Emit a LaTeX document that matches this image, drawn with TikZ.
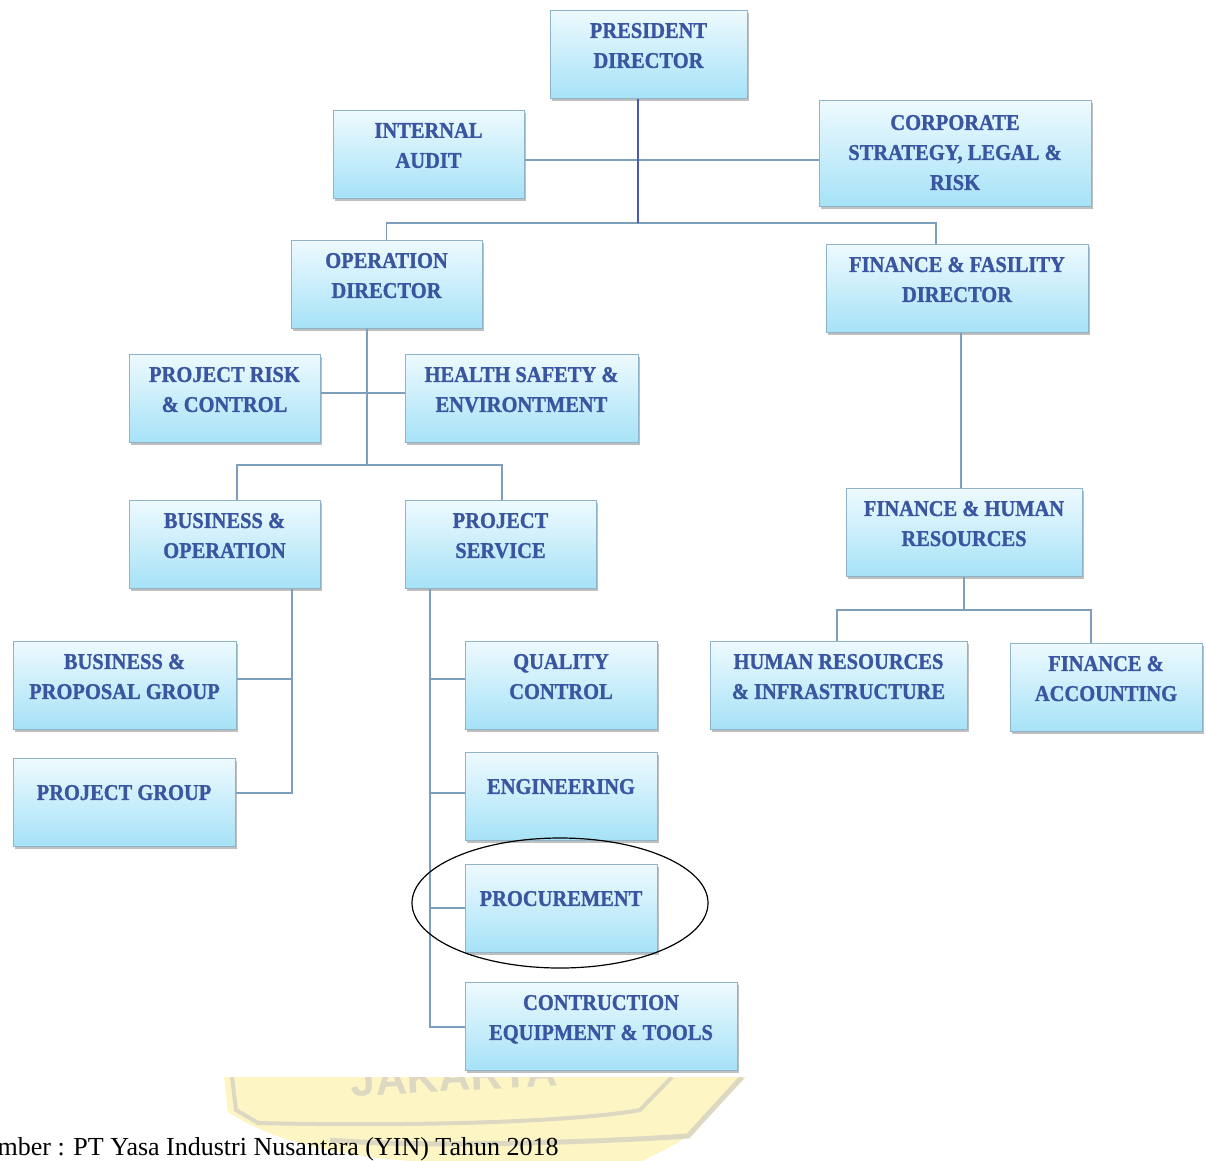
\documentclass[tikz,border=0pt]{standalone}
\usepackage{fontspec}
\setmainfont{Liberation Serif}
\newfontfamily\boxfont[FakeStretch=0.91,FakeBold=1.2]{Liberation Serif}
\newfontfamily\wmfont{Liberation Sans}
\usetikzlibrary{shadows,shapes.geometric}
\definecolor{boxtop}{HTML}{EEFAFE}
\definecolor{boxbot}{HTML}{A6E2F7}
\definecolor{boxline}{HTML}{8FB4C9}
\definecolor{txtc}{HTML}{3A56A0}
\definecolor{conc}{HTML}{7E9EBB}
\definecolor{conp}{HTML}{4D57B6}
\definecolor{wmy}{HTML}{FDF5C4}
\definecolor{wmg}{HTML}{DCD8C2}
\newcommand{\bxt}[4][13pt]{\parbox[c][#3][t]{#2}{\centering\boxfont\bfseries\fontsize{22.5}{30}\selectfont\color{txtc}\vspace*{#1}#4}}
\begin{document}
\begin{tikzpicture}[x=1pt,y=-1pt,
  box/.style={draw=boxline,line width=1pt,top color=boxtop,bottom color=boxbot,inner sep=0pt,
    drop shadow={shadow xshift=1.5pt,shadow yshift=-2.5pt,fill=black!45,opacity=0.55}},
  conn/.style={draw=conc,line width=1.4pt},
  connp/.style={draw=conp,line width=1.4pt},
  hilite/.style={draw=black,line width=1.2pt,ellipse,inner sep=0pt}]
\useasboundingbox (0,0) rectangle (1206,1160);
\fill[white] (0,0) rectangle (1206,1160);

% watermark (partly visible)
\begin{scope}
\clip (0,1077) rectangle (1206,1160);
\fill[wmy] (224,1077) -- (228,1112) .. controls (270,1140) and (340,1158) .. (430,1162) -- (640,1162) .. controls (665,1150) and (680,1142) .. (688,1136) -- (746,1077) -- cycle;
\draw[wmg,line width=5pt] (742,1077) -- (688,1136) .. controls (600,1142) and (420,1148) .. (330,1140);
\draw[wmg,line width=4pt] (232,1077) -- (236,1110) -- (258,1123) .. controls (380,1126) and (560,1124) .. (640,1110) -- (672,1077);
\node[anchor=base,text=wmg,font=\wmfont\bfseries\fontsize{44}{44}\selectfont,rotate=3,inner sep=0pt] (wm) at (455,1091) {JAKARTA};
\end{scope}

% boxes
\node[box] (pres) at (648.5,54) {\bxt{197pt}{88pt}{PRESIDENT\\DIRECTOR}};
\node[box] (aud) at (428.5,154) {\bxt{191pt}{88pt}{INTERNAL\\AUDIT}};
\node[box] (corp) at (955,153) {\bxt[15pt]{272pt}{106pt}{CORPORATE\\STRATEGY, LEGAL \&\\RISK}};
\node[box] (op) at (386.5,284) {\bxt{191pt}{88pt}{OPERATION\\DIRECTOR}};
\node[box] (fin) at (957,288) {\bxt{262pt}{88pt}{FINANCE \& FASILITY\\DIRECTOR}};
\node[box] (risk) at (224.5,398) {\bxt{191pt}{88pt}{PROJECT RISK\\\& CONTROL}};
\node[box] (hse) at (521.5,398) {\bxt{233pt}{88pt}{HEALTH SAFETY \&\\ENVIRONTMENT}};
\node[box] (bo) at (224.5,544) {\bxt{191pt}{88pt}{BUSINESS \&\\OPERATION}};
\node[box] (ps) at (500.5,544) {\bxt{191pt}{88pt}{PROJECT\\SERVICE}};
\node[box] (fhr) at (964,532) {\bxt{236pt}{88pt}{FINANCE \& HUMAN\\RESOURCES}};
\node[box] (bpg) at (124.5,685) {\bxt{223pt}{88pt}{BUSINESS \&\\PROPOSAL GROUP}};
\node[box] (pg) at (124,802) {\bxt[27pt]{222pt}{88pt}{PROJECT GROUP}};
\node[box] (qc) at (561,685) {\bxt{192pt}{88pt}{QUALITY\\CONTROL}};
\node[box] (eng) at (561,796) {\bxt[27pt]{192pt}{88pt}{ENGINEERING}};
\node[box] (proc) at (561,908) {\bxt[27pt]{192pt}{88pt}{PROCUREMENT}};
\node[box] (cet) at (601,1026) {\bxt{272pt}{88pt}{CONTRUCTION\\EQUIPMENT \& TOOLS}};
\node[box] (hr) at (838.5,685) {\bxt{257pt}{88pt}{HUMAN RESOURCES\\\& INFRASTRUCTURE}};
\node[box] (fa) at (1106,687) {\bxt{192pt}{88pt}{FINANCE \&\\ACCOUNTING}};

% junctions
\coordinate (jTop) at (638,223);
\coordinate (jFin) at (936,223);
\coordinate (jAud) at (638,160);
\coordinate (jO) at (367,465);
\coordinate (jR) at (367,393);
\coordinate (jB1) at (237,465);
\coordinate (jB2) at (502,465);
\coordinate (jBO) at (292,793);
\coordinate (jBP) at (292,679);
\coordinate (jPS) at (430,1027);
\coordinate (jQ) at (430,679);
\coordinate (jE) at (430,793);
\coordinate (jP) at (430,908);
\coordinate (jFD) at (961,400);
\coordinate (jH1) at (837,610);
\coordinate (jH2) at (1091,610);

% connectors
\draw[conn] (aud.east |- jAud) -- (corp.west |- jAud);
\draw[conn] (op.north) |- (jTop) -- (jFin) -- (jFin |- fin.north);
\draw[connp] (jTop |- pres.south) -- (jTop);
\draw[conn] (jO |- op.south) -- (jO);
\draw[conn] (risk.east |- jR) -- (hse.west |- jR);
\draw[conn] (jB1 |- bo.north) -- (jB1) -- (jB2) -- (jB2 |- ps.north);
\draw[conn] (jBO |- bo.south) -- (jBO) -- (pg.east |- jBO);
\draw[conn] (bpg.east |- jBP) -- (jBP);
\draw[conn] (jPS |- ps.south) -- (jPS) -- (cet.west |- jPS);
\draw[conn] (jQ) -- (qc.west |- jQ);
\draw[conn] (jE) -- (eng.west |- jE);
\draw[conn] (jP) -- (proc.west |- jP);
\draw[conn] (jFD |- fin.south) -- (jFD |- fhr.north);
\draw[conn] (fhr.south) -- (fhr.south |- jH1);
\draw[conn] (jH1 |- hr.north) -- (jH1) -- (jH2) -- (jH2 |- fa.north);

% highlight
\node[hilite,minimum width=296pt,minimum height=130pt] (hl) at (560,903) {};

% caption
\node[anchor=base west,inner sep=0pt,font=\fontsize{26}{30}\selectfont] (cap) at (-30,1155) {Sumber : PT Yasa Industri Nusantara (YIN) Tahun 2018};
\end{tikzpicture}
\end{document}
